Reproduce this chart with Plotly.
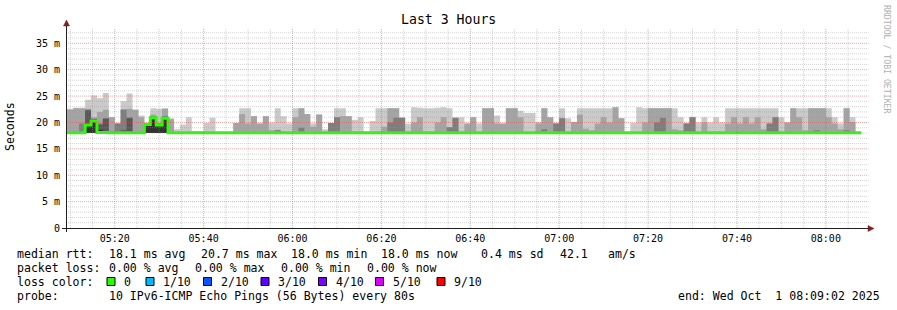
import plotly.graph_objects as go
import pandas as pd

FONT = "DejaVu Sans Mono"
W, H = 897, 310
L, R, T, B = 66, 866, 28, 228          # plot box in pixels

# ---------------- data ----------------
range_start = "2025-10-01 05:09:02"
range_end = "2025-10-01 08:09:02"
first_step = "2025-10-01 05:08:00"
STEP_S = 80
MIN_RTT = 18.0   # lowest pings sit on the minimum (hidden under the median)

# ping ranks 10..6 (ms): tops of the smoke layers, one value per 80 s step
ping10 = [22.6, 22.6, 22.8, 22.8, 24.3, 25.1, 24.6, 25.6, 21.0, 19.8,
          24.0, 25.5, 22.4, 21.3, 20.0, 22.7, 22.6, 22.7, 20.8, 18.7,
          19.6, 21.0, 18.4, 18.4, 19.9, 20.9, 18.0, 18.0, 18.0, 19.9,
          22.7, 22.7, 21.2, 19.8, 21.2, 20.0, 22.7, 21.2, 19.8, 22.7,
          22.7, 21.6, 19.8, 21.5, 18.7, 19.9, 22.7, 22.7, 21.2, 20.5,
          21.0, 18.3, 20.3, 22.7, 22.7, 22.7, 22.7, 20.9, 19.7, 22.9,
          22.8, 22.7, 22.7, 22.8, 22.9, 22.7, 20.9, 21.0, 19.8, 21.0,
          19.8, 22.7, 22.7, 21.3, 19.8, 22.7, 22.7, 22.2, 21.8, 21.8,
          20.1, 22.7, 21.0, 19.8, 22.7, 20.8, 20.1, 22.7, 22.7, 22.7,
          22.7, 22.7, 22.7, 22.9, 20.8, 18.0, 19.9, 22.9, 22.7, 22.7,
          22.7, 22.7, 22.7, 22.7, 21.0, 19.8, 21.1, 20.0, 21.0, 20.0,
          21.0, 20.0, 22.7, 22.7, 22.7, 22.7, 22.7, 22.7, 22.7, 22.7,
          22.7, 21.0, 20.0, 22.7, 22.7, 22.7, 22.7, 22.7, 22.7, 22.7,
          21.0, 19.8, 22.7, 21.0, 18.0]
ping9 = [22.4, 22.4, 22.7, 22.7, 22.6, 21.0, 22.0, 22.4, 21.0, 19.8,
         22.5, 22.6, 22.4, 21.0, 19.9, 21.5, 19.9, 22.6, 20.6, 18.0,
         18.0, 18.0, 18.0, 18.0, 18.0, 18.0, 18.0, 18.0, 18.0, 19.9,
         21.6, 19.8, 21.2, 19.8, 21.2, 18.5, 18.6, 18.3, 18.0, 21.0,
         22.7, 21.6, 19.2, 21.5, 18.0, 19.9, 21.0, 21.2, 21.2, 18.0,
         18.0, 18.0, 18.0, 18.0, 19.2, 22.7, 22.7, 20.9, 18.0, 20.0,
         21.0, 18.0, 18.0, 20.0, 21.0, 19.1, 20.9, 18.0, 19.8, 21.0,
         18.0, 22.7, 22.7, 19.8, 19.8, 22.7, 22.7, 21.0, 18.0, 18.0,
         19.8, 22.7, 21.0, 19.8, 20.8, 18.0, 20.1, 21.5, 18.8, 18.5,
         19.8, 21.0, 20.0, 22.9, 20.8, 18.0, 18.0, 18.0, 20.0, 22.7,
         22.7, 22.7, 22.7, 18.7, 18.5, 19.8, 21.0, 18.0, 20.0, 18.0,
         18.0, 18.0, 19.8, 21.0, 19.8, 21.0, 19.8, 21.0, 18.7, 19.8,
         21.0, 18.0, 20.0, 22.7, 21.0, 18.5, 22.7, 22.7, 22.7, 21.0,
         19.8, 18.7, 22.7, 20.1, 18.0]
ping8 = [18.0, 18.0, 18.0, 19.8, 22.4, 20.7, 19.8, 20.8, 18.4, 19.8,
         22.4, 21.0, 18.0, 18.0, 19.9, 21.2, 19.8, 21.2, 18.0, 18.0,
         18.0, 18.0, 18.0, 18.0, 18.0, 18.0, 18.0, 18.0, 18.0, 18.0,
         18.0, 18.0, 18.0, 18.0, 18.0, 18.0, 18.5, 18.0, 18.0, 18.0,
         19.0, 18.0, 18.0, 18.0, 18.0, 19.9, 21.0, 18.0, 18.0, 18.0,
         18.0, 18.0, 18.0, 18.0, 18.0, 20.0, 20.9, 20.9, 18.0, 18.0,
         18.0, 18.0, 18.0, 18.0, 18.0, 19.1, 20.9, 18.0, 18.0, 18.0,
         18.0, 18.0, 18.0, 18.0, 18.0, 18.0, 18.0, 18.0, 18.0, 18.0,
         18.4, 18.7, 18.0, 19.8, 20.8, 18.0, 18.0, 18.0, 18.0, 18.0,
         18.0, 18.0, 18.0, 18.0, 18.0, 18.0, 18.0, 18.0, 18.0, 18.0,
         20.0, 20.9, 18.0, 18.0, 18.0, 19.8, 21.0, 18.0, 18.0, 18.0,
         18.0, 18.0, 18.0, 18.0, 18.0, 18.0, 18.0, 18.0, 18.0, 19.8,
         21.0, 18.0, 18.0, 18.0, 18.0, 18.0, 18.4, 18.5, 18.0, 18.0,
         18.0, 18.0, 18.5, 18.0, 18.0]
ping7 = [18.0, 18.0, 18.0, 18.0, 22.3, 20.6, 19.6, 20.7, 18.0, 18.0,
         18.5, 20.8, 18.0, 18.0, 19.9, 21.1, 19.8, 21.1] + [18.0] * 117
ping6 = [18.0, 18.0, 18.0, 18.0, 19.8, 20.5, 18.6, 18.3, 18.0, 18.0,
         18.0, 18.0, 18.0, 18.0, 19.8, 21.0, 19.7, 21.0] + [18.0] * 117
median = [18.05, 18.05, 18.05, 18.05, 19.5, 20.3, 18.1, 18.1, 18.05, 18.05,
          18.05, 18.05, 18.05, 18.05, 19.6, 20.9, 19.5, 20.8] + [18.05] * 117

loss_labels = ["0", "1/10", "2/10", "3/10", "4/10", "5/10", "9/10"]
loss_colors = ["#26ff00", "#00b8ff", "#0059ff", "#5e00ff", "#7e00ff", "#dd00ff", "#ff0000"]

y_ticks = [0, 5, 10, 15, 20, 25, 30, 35]
y_ticktext = ["0", "5 m", "10 m", "15 m", "20 m", "25 m", "30 m", "35 m"]
Y_MAX = 37.9

# ---------------- helpers ----------------
def pxx(x):
    return (x - L) / (R - L)

def pxy(y):
    return (B - y) / (B - T)

n = len(ping10)
t0 = pd.Timestamp(first_step)
times = [t0 + pd.Timedelta(seconds=STEP_S * i) for i in range(n + 1)]

def ext(a):
    return list(a) + [a[-1]]

fig = go.Figure()

# smoke layers (smokeping greys), drawn light to dark
layers = [(ping10, "#cacaca"), (ping9, "#a4a4a4"), (ping8, "#7e7e7e"),
          (ping7, "#585858"), (ping6, "#323232")]
for top, col in layers:
    fig.add_trace(go.Scatter(x=times, y=[MIN_RTT] * (n + 1), mode="lines",
                             line=dict(width=0, shape="hv"), hoverinfo="skip",
                             showlegend=False))
    fig.add_trace(go.Scatter(x=times, y=ext(top), mode="lines", fill="tonexty",
                             fillcolor=col, line=dict(width=0, shape="hv"),
                             hoverinfo="skip", showlegend=False))

# median line
fig.add_trace(go.Scatter(x=times, y=ext(median), mode="lines",
                         line=dict(color=loss_colors[0], width=3, shape="hv"),
                         hoverinfo="skip", showlegend=False))

shapes = []
GRID = "rgba(150,150,150,0.42)"
MGRID = "rgba(225,80,80,0.5)"
# horizontal grid
for v in range(1, 38):
    shapes.append(dict(type="line", xref="paper", yref="y", x0=0, x1=1.003, y0=v, y1=v,
                       line=dict(color=MGRID if v % 5 == 0 else GRID, width=1, dash="1px,1px"),
                       layer="above"))
# vertical grid
gt = pd.Timestamp("2025-10-01 05:10:00")
while gt < pd.Timestamp(range_end):
    major = gt.minute % 20 == 0
    shapes.append(dict(type="line", xref="x", yref="paper", x0=gt, x1=gt, y0=0, y1=1,
                       line=dict(color=MGRID if major else GRID, width=1, dash="1px,1px"),
                       layer="above"))
    gt += pd.Timedelta(minutes=5)

AXIS = "#1f1f1f"
ARROW = "rgb(128,31,31)"
shapes.append(dict(type="line", xref="paper", yref="paper", x0=pxx(62), x1=pxx(869),
                   y0=pxy(228.5), y1=pxy(228.5), line=dict(color=AXIS, width=1), layer="above"))
shapes.append(dict(type="line", xref="paper", yref="paper", x0=pxx(66.5), x1=pxx(66.5),
                   y0=pxy(232), y1=pxy(25), line=dict(color=AXIS, width=1), layer="above"))
shapes.append(dict(type="path", xref="paper", yref="paper",
                   path=f"M {pxx(868)} {pxy(225.5)} L {pxx(874)} {pxy(228.5)} L {pxx(868)} {pxy(231.5)} Z",
                   fillcolor=ARROW, line=dict(color=ARROW, width=0.5), layer="above"))
shapes.append(dict(type="path", xref="paper", yref="paper",
                   path=f"M {pxx(63.5)} {pxy(26)} L {pxx(66.5)} {pxy(20)} L {pxx(69.5)} {pxy(26)} Z",
                   fillcolor=ARROW, line=dict(color=ARROW, width=0.5), layer="above"))

anns = []
def txt(s, x, y, size=11.55, xanchor="left", color="black", angle=0):
    anns.append(dict(text=s.replace(" ", "\u00a0"), x=pxx(x), y=pxy(y), xref="paper", yref="paper",
                     xanchor=xanchor, yanchor="middle", showarrow=False, textangle=angle,
                     font=dict(family=FONT, size=size, color=color)))

txt("Last 3 Hours", 448.5, 20, size=13.2, xanchor="center")
txt("Seconds", 10, 126, angle=-90, xanchor="center")
txt("RRDTOOL / TOBI OETIKER", 887, 59, size=8.2, xanchor="center", color="#b0b0b0", angle=90)

row1 = 254
txt("median rtt:", 15, row1)
txt("18.1 ms avg", 106.5, row1)
txt("20.7 ms max", 199, row1)
txt("18.0 ms min", 289, row1)
txt("18.0 ms now", 379, row1)
txt("0.4 ms sd", 478.5, row1)
txt("42.1", 557.5, row1)
txt("am/s", 606, row1)

row2 = 268
txt("packet loss:", 15, row2)
txt("0.00 % avg", 106.5, row2)
txt("0.00 % max", 192.5, row2)
txt("0.00 % min", 278.5, row2)
txt("0.00 % now", 364.5, row2)

row3 = 282
txt("loss color:", 15, row3)
sq_x = [107, 146, 203.5, 261, 318.5, 375.5, 437]
for lab, col, sx in zip(loss_labels, loss_colors, sq_x):
    shapes.append(dict(type="rect", xref="paper", yref="paper", x0=pxx(sx), x1=pxx(sx + 8),
                       y0=pxy(277.5), y1=pxy(285.5), fillcolor=col,
                       line=dict(color="black", width=1), layer="above"))
    txt(lab, sx + 15, row3)

row4 = 296
txt("probe:", 15, row4)
txt("10 IPv6-ICMP Echo Pings (56 Bytes) every 80s", 106.5, row4)
txt("end: Wed Oct  1 08:09:02 2025", 882, row4, xanchor="right")

fig.update_layout(
    width=W, height=H, margin=dict(l=L, r=W - R, t=T, b=H - B, pad=0),
    paper_bgcolor="white", plot_bgcolor="white", showlegend=False,
    shapes=shapes, annotations=anns,
    xaxis=dict(type="date", range=[range_start, range_end], showgrid=False, zeroline=False,
               showline=False, ticks="", tick0="2025-10-01 05:20:00", dtick=20 * 60 * 1000,
               tickformat="%H:%M", tickfont=dict(family=FONT, size=10, color="black"),
               ticklabelstandoff=3, fixedrange=True),
    yaxis=dict(range=[0, Y_MAX], showgrid=False, zeroline=False, showline=False, ticks="",
               tickvals=y_ticks, ticktext=y_ticktext, ticklabelstandoff=5,
               tickfont=dict(family=FONT, size=10, color="black"), fixedrange=True),
)

fig.write_html("out.html")
